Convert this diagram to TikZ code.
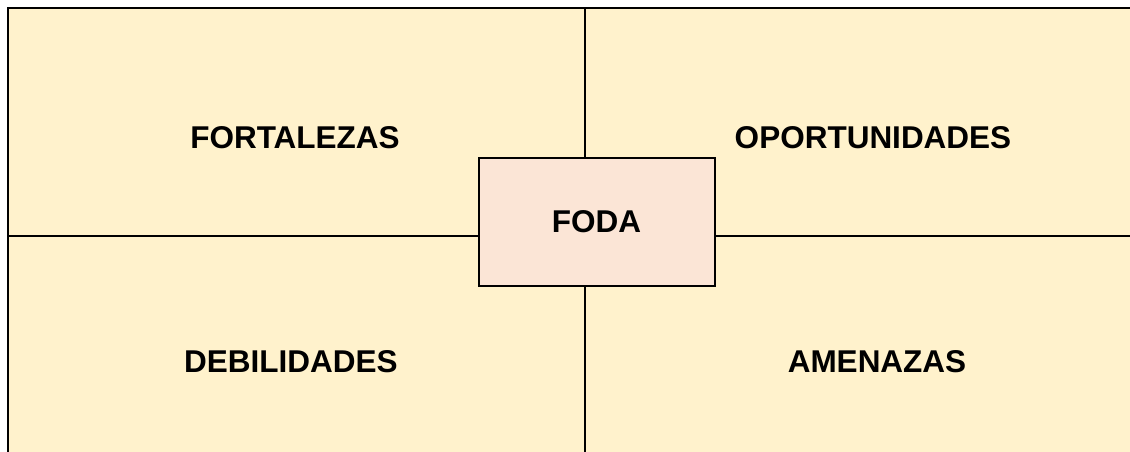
\documentclass[tikz,border=0pt]{standalone}
\usepackage{fontspec}
\setmainfont{Liberation Sans}
\definecolor{cream}{HTML}{FFF2CC}
\definecolor{peach}{HTML}{FBE5D6}
\begin{document}
\begin{tikzpicture}[x=1pt,y=-1pt,
        label/.style={font=\fontsize{31.5}{36}\selectfont\bfseries},
        divider/.style={line width=1.5pt}]
        \useasboundingbox (0,0) rectangle (1130,452);
        \fill[cream] (8,8) rectangle (1135,460);
        \draw[line width=2pt] (8,460) -- (8,8) -- (1135,8);

        \node[label, draw, line width=2pt, fill=peach, minimum width=236pt, minimum height=128pt, inner sep=0pt] (foda) at (596.5,221.5) {FODA};

        \coordinate (top) at (585,8);
        \coordinate (bottom) at (585,460);
        \coordinate (left) at (8,236);
        \coordinate (right) at (1135,236);
        \draw[divider] (top) -- (top |- foda.north);
        \draw[divider] (top |- foda.south) -- (bottom);
        \draw[divider] (left) -- (foda.west |- left);
        \draw[divider] (foda.east |- right) -- (right);

        \node[label] (fortalezas) at (295,138) {FORTALEZAS};
        \node[label] (oportunidades) at (873,138) {OPORTUNIDADES};
        \node[label] (debilidades) at (291,362) {DEBILIDADES};
        \node[label] (amenazas) at (877,362) {AMENAZAS};
    \end{tikzpicture}
\end{document}
